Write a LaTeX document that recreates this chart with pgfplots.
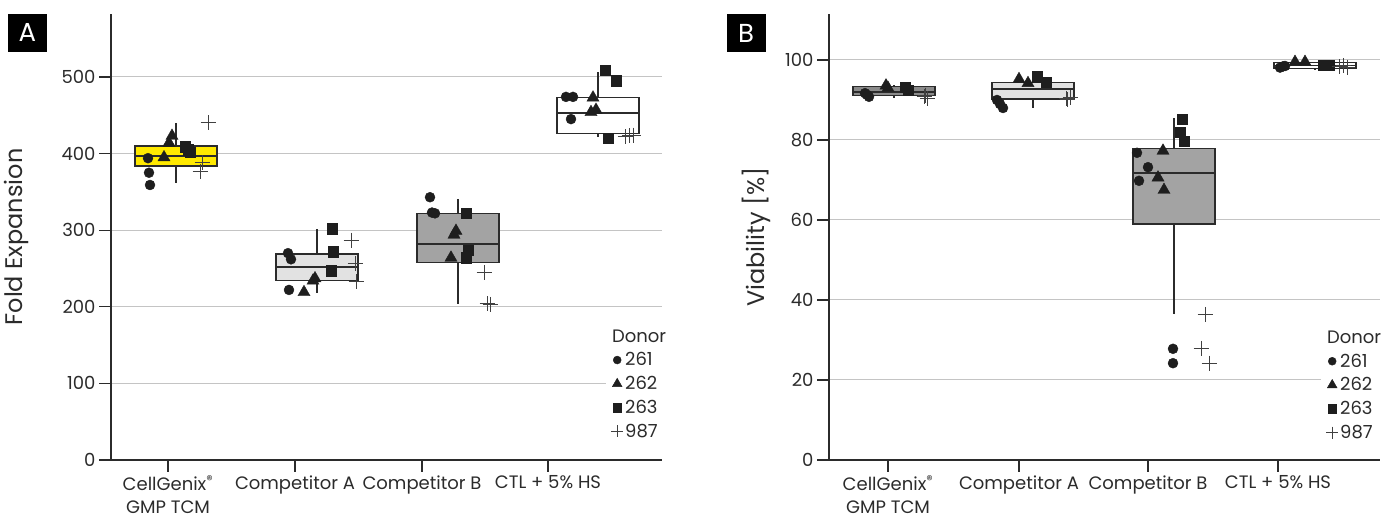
\documentclass[border=0pt]{standalone}
\usepackage{pgfplots}
\pgfplotsset{compat=1.18}
\usepgfplotslibrary{statistics}
\usepackage{fontspec}
\setmainfont{Poppins}
\definecolor{axc}{HTML}{2B2B2B}
\definecolor{gridc}{HTML}{C4C4C4}
\definecolor{mk}{HTML}{1E1E1E}
\definecolor{crossc}{HTML}{404040}
\definecolor{ylw}{HTML}{FFE900}
\definecolor{gdark}{HTML}{8A8A8A}
\definecolor{glight}{HTML}{E2E2E2}
\definecolor{gmid}{HTML}{A3A3A3}
\pgfplotsset{
  common/.style={
    scale only axis, width=551pt, height=446pt,
    axis x line*=bottom, axis y line*=left,
    axis line style={axc, line width=1.3pt, -},
    tick style={axc, line width=1.2pt},
    tick align=outside, major tick length=12pt,
    ymajorgrids, grid style={gridc, line width=1pt},
    /pgf/number format/assume math mode=true,
    ticklabel style={font=\fontsize{18}{23}\selectfont, text=axc},
    xticklabel style={align=center},
    ylabel style={font=\fontsize{24}{28}\selectfont, text=axc},
    legend cell align=left,
    legend style={draw=none, fill=white, font=\fontsize{18}{22}\selectfont, text=axc, anchor=north west, row sep=5pt, inner sep=3pt},
    boxplot/draw direction=y,
    boxplot/every median/.style={line width=1.7pt},
    boxplot/every whisker/.style={line width=1.4pt},
    boxplot/every box/.style={line width=1.4pt},
  },
  c1/.style={only marks, mark=*, mark size=5pt, color=mk},
  c2/.style={only marks, mark=triangle*, mark size=7pt, color=mk},
  c3/.style={only marks, mark=square*, mark size=5.2pt, color=mk},
  c4/.style={only marks, mark=+, mark size=7.5pt, color=crossc, mark options={line width=1pt}},
  bx/.style={forget plot, draw=axc, line width=1.4pt},
}
\begin{document}
\begin{tikzpicture}
% ---------------- Panel A ----------------
\begin{axis}[common,
  at={(111pt,61pt)}, anchor=south west,
  xmin=111, xmax=662, ymin=0, ymax=582.2,
  xtick={168,295,422,548},
  xticklabels={{CellGenix\textsuperscript{\textregistered}\\GMP TCM}, Competitor A, Competitor B, CTL + 5\% HS},
  ytick={0,100,200,300,400,500},
  ylabel={Fold Expansion},
  ylabel style={at={(axis description cs:-0.171,0.5)}, anchor=center},
  legend style={at={(axis cs:606,177)}},
  legend image code/.code={\draw[#1, every mark/.append style={scale=0.8}] plot coordinates {(8pt,0pt)};},
]
\addplot[bx, fill=ylw, boxplot prepared={draw direction=y, draw position=176, box extend=82, lower whisker=361, lower quartile=384, median=397, upper quartile=410, upper whisker=440, whisker extend=0}] coordinates {};
\addplot[bx, fill=glight, boxplot prepared={draw direction=y, draw position=317, box extend=82, lower whisker=218, lower quartile=234, median=252, upper quartile=269, upper whisker=302, whisker extend=0}] coordinates {};
\addplot[bx, fill=gmid, boxplot prepared={draw direction=y, draw position=458, box extend=82, lower whisker=204, lower quartile=258, median=282, upper quartile=322, upper whisker=341, whisker extend=0}] coordinates {};
\addplot[bx, fill=white, boxplot prepared={draw direction=y, draw position=598, box extend=82, lower whisker=421, lower quartile=426, median=453, upper quartile=473, upper whisker=507, whisker extend=0}] coordinates {};
\addlegendimage{empty legend}\addlegendentry{\hspace*{-13pt}Donor}
\addplot[c1] coordinates {(148,394)(149,375)(150,359) (288,270)(291,262)(289,222) (430,343)(432,323)(435,322) (566,474)(573,474)(571,445)};
\addlegendentry{261}
\addplot[c2] coordinates {(164,395)(169,414)(172,423) (304,219)(313,234)(315,237) (454,294)(456,299)(451,264) (593,473)(591,454)(596,457)};
\addlegendentry{262}
\addplot[c3] coordinates {(185,409)(190,402)(188,405) (332,302)(333,272)(331,247) (466,322)(468,274)(466,264) (605,509)(616,495)(608,420)};
\addlegendentry{263}
\addplot[c4] coordinates {(208,440)(202,388)(200,376) (351,287)(355,256)(356,233) (484,245)(487,204)(490,203) (625,422)(629,423)(633,424)};
\addlegendentry{987}
\end{axis}
% ---------------- Panel B ----------------
\begin{axis}[common,
  at={(829pt,61pt)}, anchor=south west,
  xmin=829, xmax=1380, ymin=0, ymax=111.5,
  xtick={888,1019,1148,1278},
  xticklabels={{CellGenix\textsuperscript{\textregistered}\\GMP TCM}, Competitor A, Competitor B, CTL + 5\% HS},
  ytick={0,20,40,60,80,100},
  ylabel={Viability [\%]},
  ylabel style={at={(axis description cs:-0.131,0.5)}, anchor=center},
  legend style={at={(axis cs:1321,33.6)}},
  legend image code/.code={\draw[#1, every mark/.append style={scale=0.8}] plot coordinates {(8pt,0pt)};},
]
\addplot[bx, fill=gdark, boxplot prepared={draw direction=y, draw position=894, box extend=82, lower whisker=90.6, lower quartile=91.1, median=92.0, upper quartile=93.3, upper whisker=93.8, whisker extend=0}] coordinates {};
\addplot[bx, fill=glight, boxplot prepared={draw direction=y, draw position=1033, box extend=82, lower whisker=87.9, lower quartile=90.2, median=92.7, upper quartile=94.4, upper whisker=95.8, whisker extend=0}] coordinates {};
\addplot[bx, fill=gmid, boxplot prepared={draw direction=y, draw position=1174, box extend=82, lower whisker=36.4, lower quartile=59.0, median=71.8, upper quartile=77.9, upper whisker=85.4, whisker extend=0}] coordinates {};
\addplot[bx, fill=white, boxplot prepared={draw direction=y, draw position=1315, box extend=82, lower whisker=97.7, lower quartile=97.8, median=98.6, upper quartile=99.3, upper whisker=99.5, whisker extend=0}] coordinates {};
\addlegendimage{empty legend}\addlegendentry{\hspace*{-13pt}Donor}
\addplot[c1] coordinates {(865,91.7)(869,90.8)(867,91.3) (997,90.0)(1003,88.0)(1000,89.0) (1137,76.8)(1148,73.2)(1139,69.8)(1173,27.8)(1173,24.2) (1280,98.1)(1283,98.4)(1285,98.5)};
\addlegendentry{261}
\addplot[c2] coordinates {(886,93.6)(888,93.0) (1019,95.2)(1028,94.2) (1163,77.3)(1158,70.6)(1164,67.5) (1295,99.5)(1305,99.5)};
\addlegendentry{262}
\addplot[c3] coordinates {(905,93.2)(908,92.4) (1037,95.8)(1046,94.5) (1182,85.2)(1180,81.9)(1184,79.7) (1323,98.7)(1329,98.7)};
\addlegendentry{263}
\addplot[c4] coordinates {(924,90.8)(927,90.3)(925,91.2) (1066,90.4)(1070,90.6)(1067,90.0) (1205,36.4)(1201,27.9)(1209,24.2) (1339,98.3)(1343,98.5)(1347,98.2)};
\addlegendentry{987}
\end{axis}
% panel letters
\node[fill=black, text=white, minimum width=39pt, minimum height=38pt, inner sep=0pt, font=\fontsize{26}{26}\selectfont] at (27.5pt,488pt) {A};
\node[fill=black, text=white, minimum width=39pt, minimum height=38pt, inner sep=0pt, font=\fontsize{26}{26}\selectfont] at (746pt,488pt) {B};
\pgfresetboundingbox
\path[use as bounding box] (0pt,0pt) rectangle (1385pt,521pt);
\end{tikzpicture}
\end{document}
